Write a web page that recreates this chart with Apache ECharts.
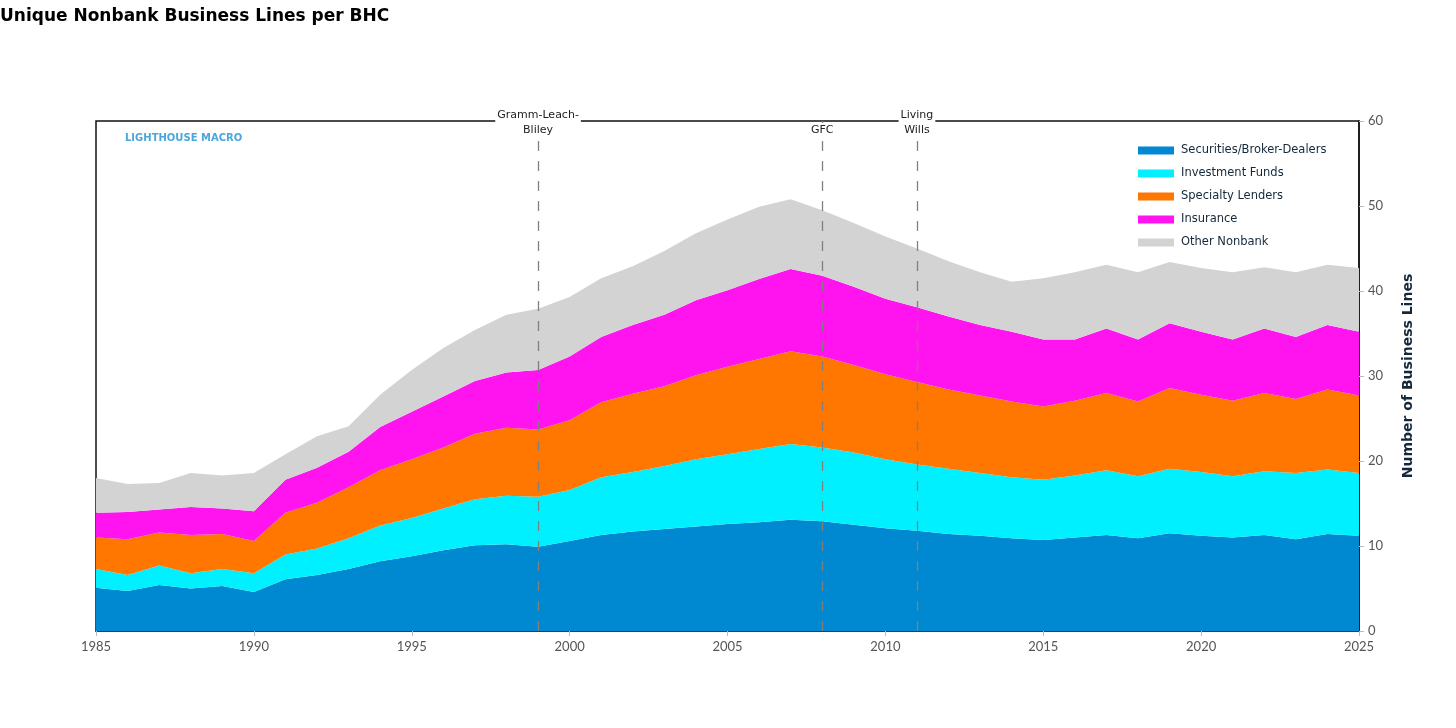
<!DOCTYPE html>
<html>
<head>
<meta charset="utf-8">
<script src="https://cdn.jsdelivr.net/npm/echarts@6/dist/echarts.min.js"></script>
<style>
    html, body { margin: 0; padding: 0; background: #fff; }
    #chart { width: 1456px; height: 728px; }
</style>
</head>
<body>
<div id="chart"></div>
<script>
var years = [];
for (var y = 1985; y <= 2025; y++) { years.push(String(y)); }

// values, per year 1985..2025
var securities = [5.1, 4.7, 5.4, 5.0, 5.3, 4.6, 6.1, 6.6, 7.3, 8.2,
    8.8, 9.5, 10.1, 10.2, 9.9, 10.6, 11.3, 11.7, 12.0, 12.3,
    12.6, 12.8, 13.1, 12.9, 12.5, 12.1, 11.8, 11.4, 11.2, 10.9,
    10.7, 11.0, 11.3, 10.9, 11.5, 11.2, 11.0, 11.3, 10.8, 11.4, 11.2];
var investFunds = [2.2, 1.9, 2.3, 1.8, 2.0, 2.2, 2.9, 3.1, 3.6, 4.2,
    4.5, 4.9, 5.4, 5.7, 5.9, 6.0, 6.8, 7.0, 7.4, 7.9,
    8.2, 8.6, 8.9, 8.7, 8.5, 8.1, 7.8, 7.7, 7.4, 7.2,
    7.1, 7.3, 7.6, 7.3, 7.6, 7.5, 7.2, 7.5, 7.8, 7.6, 7.4];
var specialtyLenders = [3.7, 4.2, 3.9, 4.5, 4.1, 3.8, 4.9, 5.4, 6.0, 6.5,
    6.9, 7.2, 7.7, 8.0, 7.9, 8.2, 8.8, 9.2, 9.4, 9.9,
    10.3, 10.6, 10.9, 10.7, 10.3, 10.0, 9.7, 9.3, 9.1, 8.9,
    8.6, 8.8, 9.1, 8.8, 9.5, 9.1, 8.9, 9.2, 8.7, 9.4, 9.1];
var insurance = [2.9, 3.2, 2.7, 3.3, 3.0, 3.5, 3.9, 4.1, 4.2, 5.1,
    5.6, 6.0, 6.2, 6.5, 7.0, 7.5, 7.7, 8.1, 8.4, 8.8,
    9.0, 9.4, 9.7, 9.5, 9.2, 8.9, 8.8, 8.6, 8.3, 8.2,
    7.9, 7.2, 7.6, 7.3, 7.6, 7.4, 7.2, 7.6, 7.3, 7.6, 7.5];
var otherNonbank = [4.1, 3.3, 3.1, 4.0, 3.9, 4.5, 3.0, 3.7, 3.0, 3.8,
    4.9, 5.7, 6.0, 6.8, 7.2, 7.0, 6.9, 6.9, 7.5, 7.9,
    8.3, 8.5, 8.2, 7.7, 7.5, 7.3, 6.9, 6.5, 6.2, 5.9,
    7.2, 7.9, 7.5, 7.9, 7.2, 7.5, 7.9, 7.2, 7.6, 7.1, 7.5];

var seriesNames = ['Securities/Broker-Dealers', 'Investment Funds', 'Specialty Lenders', 'Insurance', 'Other Nonbank'];
var seriesColors = ['#0088d1', '#00f0ff', '#ff7700', '#ff14f0', '#d3d3d3'];
var seriesData = [securities, investFunds, specialtyLenders, insurance, otherNonbank];

var events = [
    {year: '1999', label: 'Gramm-Leach-\nBliley'},
    {year: '2008', label: 'GFC'},
    {year: '2011', label: 'Living\nWills'}
];

var myChart = echarts.init(document.getElementById('chart'));

var series = [];
for (var i = 0; i < seriesNames.length; i++) {
    series.push({
        name: seriesNames[i],
        type: 'line',
        stack: 'total',
        data: seriesData[i],
        symbol: 'none',
        lineStyle: {width: 0},
        areaStyle: {color: seriesColors[i], opacity: 1},
        itemStyle: {color: seriesColors[i]},
        emphasis: {disabled: true},
        z: 2
    });
}

// dashed event lines with labels sitting on the top border
series.push({
    name: 'events',
    type: 'line',
    data: [],
    z: 5,
    markLine: {
        silent: true,
        symbol: ['none', 'none'],
        lineStyle: {color: '#808080', type: [10, 10], width: 1.3},
        label: {
            position: 'end',
            distance: -17,
            color: '#222',
            fontFamily: 'DejaVu Sans',
            fontSize: 11,
            lineHeight: 15,
            backgroundColor: '#fff',
            padding: [0, 2],
            formatter: function (p) { return p.name; }
        },
        data: events.map(function (e) { return {name: e.label, xAxis: e.year}; })
    }
});

var option = {
    backgroundColor: '#fff',
    animation: false,
    title: {
        text: 'Unique Nonbank Business Lines per BHC',
        left: -5,
        top: 3,
        textStyle: {fontFamily: 'DejaVu Sans', fontWeight: 'bold', fontSize: 17, color: '#000'}
    },
    legend: {
        orient: 'vertical',
        left: 1138,
        top: 144,
        padding: 0,
        itemWidth: 36,
        itemHeight: 8,
        itemGap: 10,
        icon: 'rect',
        data: seriesNames,
        textStyle: {fontFamily: 'DejaVu Sans', fontSize: 11.5, color: '#13283a', lineHeight: 13, padding: [0, 0, 0, 2]}
    },
    graphic: [{
        type: 'text',
        left: 125,
        top: 133,
        style: {text: 'LIGHTHOUSE MACRO', fill: '#4aa6dd', font: 'bold 10px "DejaVu Sans"'}
    }],
    grid: {
        left: 96, right: 97, top: 121, bottom: 97,
        show: true,
        borderColor: '#111',
        borderWidth: 1.5,
        backgroundColor: 'transparent'
    },
    xAxis: {
        type: 'category',
        data: years,
        boundaryGap: false,
        axisLine: {show: true, lineStyle: {color: '#333', width: 1.5}},
        axisTick: {show: true, interval: 4, length: 5, lineStyle: {color: '#bbb'}},
        axisLabel: {interval: 4, color: '#555', fontFamily: 'Lato', fontSize: 13, margin: 9},
        splitLine: {show: false}
    },
    yAxis: {
        type: 'value',
        position: 'right',
        min: 0,
        max: 60,
        interval: 10,
        name: 'Number of Business Lines',
        nameLocation: 'middle',
        nameRotate: 90,
        nameGap: 42,
        nameTextStyle: {fontFamily: 'DejaVu Sans', fontWeight: 'bold', fontSize: 14, color: '#13283a'},
        axisLine: {show: true, lineStyle: {color: '#111', width: 1.5}},
        axisTick: {show: true, length: 5, lineStyle: {color: '#bbb'}},
        axisLabel: {color: '#555', fontFamily: 'Lato', fontSize: 13, margin: 9},
        splitLine: {show: false}
    },
    series: series
};

myChart.setOption(option);
</script>
</body>
</html>
